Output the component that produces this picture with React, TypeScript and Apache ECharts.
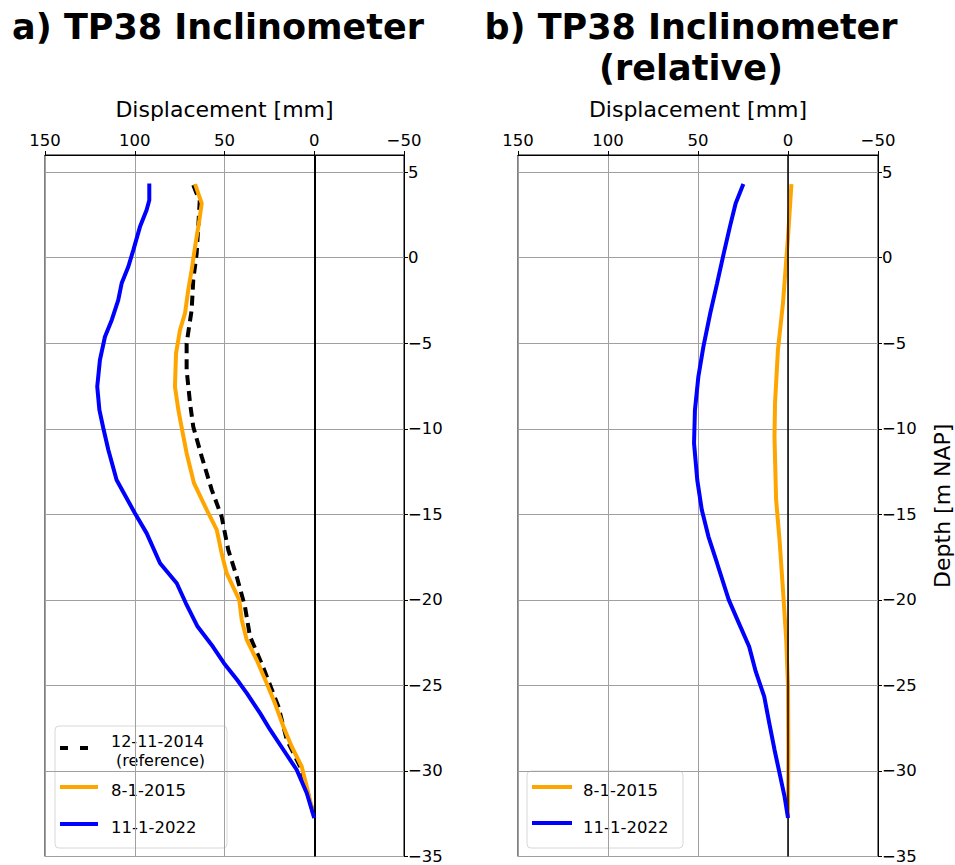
import React, { useEffect, useRef } from "react";
import * as echarts from "echarts";

// ---------- data ----------
const yTicks = [-35, -30, -25, -20, -15, -10, -5, 0, 5];

// panel a (absolute)
const depthRefA = [4.24, 3.3, 0.25, -1.3, -3.06, -5.0, -6.56, -8.5, -9.88, -11.63, -13.57, -15.13, -17.08, -18.64, -20.39, -22.14, -23.9, -26.23, -28.18, -29.74, -31.68, -32.75];
const dispRefA = [67.4, 63.8, 65.5, 67.4, 68.3, 71.1, 71.1, 69.2, 67.4, 62.7, 57.1, 51.6, 47.9, 43.2, 38.6, 35.8, 28.6, 20.0, 15.3, 7.9, 2.5, 0];

const depthOrangeA = [4.3, 3.17, 2.2, 0.64, -0.72, -1.89, -3.25, -4.23, -5.59, -7.54, -8.9, -9.97, -11.43, -13.18, -14.74, -15.91, -17.27, -18.44, -20.0, -21.17, -22.34, -23.5, -24.87, -26.05, -27.4, -28.57, -29.74, -30.91, -32.75];
const dispOrangeA = [66.4, 62.7, 64.0, 66.4, 68.3, 70.2, 72.0, 74.8, 77.0, 77.6, 75.7, 73.8, 71.1, 67.0, 59.9, 54.3, 51.6, 48.8, 41.8, 40.4, 37.6, 32.1, 26.5, 21.9, 17.2, 12.6, 7.0, 4.2, 0];

const depthBlueA = [4.34, 3.36, 2.78, 1.8, 0.44, -0.53, -1.5, -2.48, -3.64, -4.62, -5.98, -7.54, -8.9, -9.97, -11.24, -12.99, -14.94, -16.1, -17.86, -19.03, -20.2, -21.56, -22.73, -23.7, -24.67, -25.45, -26.62, -27.59, -28.76, -29.93, -31.29, -32.75];
const dispBlueA = [91.9, 91.9, 93.4, 97.1, 100.8, 103.6, 107.3, 109.2, 112.8, 116.6, 119.4, 120.9, 119.7, 117.5, 114.7, 110.1, 99.9, 93.4, 85.9, 76.6, 71.5, 65.0, 56.5, 50.3, 43.0, 37.6, 30.2, 24.6, 17.2, 9.8, 4.2, 0];

// panel b (relative)
const depthOrangeB = [4.3, 1.2, -2.67, -5.4, -8.5, -10.46, -14.16, -16.5, -19.4, -22.3, -25, -28.8, -32.75];
const dispOrangeB = [-1.9, 0, 2.8, 5.6, 7.2, 7.5, 6.6, 4.7, 2.8, 1.0, 0, -0.2, 0];

const depthBlueB = [4.3, 3.17, 1.8, 0.25, -1.5, -3.25, -5.2, -6.96, -8.9, -10.85, -13.0, -14.74, -16.3, -17.86, -20, -21.36, -22.73, -24.2, -25.66, -27.2, -28.76, -30.13, -31.5, -32.75];
const dispBlueB = [24.8, 29.1, 32.3, 35.7, 39.4, 43.2, 47.0, 49.8, 51.7, 52.2, 50.4, 47.9, 44.2, 39.4, 32.9, 27.3, 21.6, 17.9, 13.2, 10.4, 7.5, 4.7, 1.9, 0];

const labelRefLine1 = "12-11-2014";
const labelRefLine2 = " (reference)";
const labelRef = labelRefLine1 + "\n" + labelRefLine2;
const labelOrange = "8-1-2015";
const labelBlue = "11-1-2022";

// ---------- helpers ----------
const FONT = "DejaVu Sans";
const ORANGE = "#FFA500";
const BLUE = "#0000FF";
const GRIDC = "#a0a0a0";

const pairs = (d: number[], x: number[]) => d.map((v, i) => [x[i], v]);
const fmt = (v: number) => (v < 0 ? "\u2212" + Math.abs(v) : String(v));

function xAxisFor(idx: number) {
  return {
    gridIndex: idx,
    type: "value",
    position: "top",
    inverse: true,
    min: -50,
    max: 150,
    interval: 50,
    name: "Displacement [mm]",
    nameLocation: "middle",
    nameGap: 35,
    nameTextStyle: { fontFamily: FONT, fontSize: 22, color: "#000" },
    axisLine: { show: true, onZero: false, lineStyle: { color: "#000", width: 1 } },
    axisTick: { show: true, inside: false, length: 4, lineStyle: { color: "#000" } },
    axisLabel: { fontFamily: FONT, fontSize: 16.5, color: "#000", margin: 6, formatter: fmt },
    splitLine: { show: true, lineStyle: { color: GRIDC, width: 1 } },
  };
}

function yAxisFor(idx: number, withName: boolean) {
  return {
    gridIndex: idx,
    type: "value",
    position: "right",
    min: -35,
    max: 6,
    interval: 5,
    name: withName ? "Depth [m NAP]" : "",
    nameLocation: "middle",
    nameRotate: 90,
    nameGap: 53,
    nameTextStyle: { fontFamily: FONT, fontSize: 22, color: "#000" },
    axisLine: { show: true, onZero: false, lineStyle: { color: "#000", width: 1 } },
    axisTick: { show: true, inside: false, length: 4, customValues: yTicks, lineStyle: { color: "#000" } },
    axisLabel: { fontFamily: FONT, fontSize: 16.5, color: "#000", margin: 4, customValues: yTicks, formatter: fmt },
    splitLine: { show: true, lineStyle: { color: GRIDC, width: 1 } },
  };
}

function line(name: string, idx: number, data: number[][], color: string, dashed = false, z = 2) {
  return {
    name,
    type: "line",
    xAxisIndex: idx,
    yAxisIndex: idx,
    data,
    showSymbol: false,
    symbol: "none",
    smooth: false,
    z,
    lineStyle: { color, width: 4, type: dashed ? [10, 6] : "solid", cap: "butt" },
  };
}

function zeroLine(idx: number, width: number) {
  return {
    type: "line",
    xAxisIndex: idx,
    yAxisIndex: idx,
    data: [],
    z: 1,
    markLine: {
      silent: true,
      symbol: "none",
      label: { show: false },
      lineStyle: { color: "#000", width, type: "solid" },
      data: [{ xAxis: 0 }],
    },
  };
}

function legendBox(x: number, y: number, w: number, h: number, items: any[], texts: any[]) {
  const children: any[] = [
    {
      type: "rect",
      shape: { x, y, width: w, height: h, r: 4 },
      style: { fill: "rgba(255,255,255,0.8)", stroke: "#d8d8d8", lineWidth: 1 },
    },
  ];
  items.forEach((it) => {
    children.push({
      type: "line",
      shape: { x1: it.hx1, y1: it.hy, x2: it.hx2, y2: it.hy },
      style: { stroke: it.color, lineWidth: 4, lineDash: it.dash || null, lineCap: "butt" },
    });
  });
  texts.forEach((t) => {
    children.push({
      type: "text",
      x: t.tx,
      y: t.ty,
      style: {
        text: t.text,
        fontFamily: FONT,
        fontSize: t.size || 16.5,
        fill: "#000",
        textAlign: "left",
        textVerticalAlign: "middle",
      },
    });
  });
  return { type: "group", z: 100, children };
}

const titleStyle = (text: string) => ({
  text,
  fontFamily: FONT,
  fontWeight: "bold",
  fontSize: 35,
  fill: "#000",
  textAlign: "center",
  textVerticalAlign: "middle",
});

export default function App() {
  const ref = useRef<HTMLDivElement>(null);
  useEffect(() => {
    if (!ref.current) return;
    const chart = echarts.init(ref.current, null, { renderer: "svg" });
    const option: any = {
      animation: false,
      backgroundColor: "#fff",
      grid: [
        { left: 45, top: 155, width: 359, height: 702, show: true, borderColor: "#000", borderWidth: 1, backgroundColor: "transparent" },
        { left: 518, top: 155, width: 360, height: 702, show: true, borderColor: "#000", borderWidth: 1, backgroundColor: "transparent" },
      ],
      xAxis: [xAxisFor(0), xAxisFor(1)],
      yAxis: [yAxisFor(0, false), yAxisFor(1, true)],
      series: [
        zeroLine(0, 2),
        zeroLine(1, 1.5),
        line(labelRef, 0, pairs(depthRefA, dispRefA), "#000", true, 3),
        line(labelOrange, 0, pairs(depthOrangeA, dispOrangeA), ORANGE, false, 4),
        line(labelBlue, 0, pairs(depthBlueA, dispBlueA), BLUE, false, 5),
        line(labelOrange, 1, pairs(depthOrangeB, dispOrangeB), ORANGE, false, 4),
        line(labelBlue, 1, pairs(depthBlueB, dispBlueB), BLUE, false, 5),
      ],
      graphic: [
        { type: "text", x: 218, y: 27, style: titleStyle("a) TP38 Inclinometer") },
        { type: "text", x: 691, y: 27, style: titleStyle("b) TP38 Inclinometer") },
        { type: "text", x: 691, y: 68, style: titleStyle("(relative)") },
        legendBox(
          55, 726, 172, 122,
          [
            { hx1: 60, hx2: 98, hy: 748, color: "#000", dash: [8, 12] },
            { hx1: 60, hx2: 98, hy: 787, color: ORANGE },
            { hx1: 60, hx2: 98, hy: 824, color: BLUE },
          ],
          [
            { tx: 111, ty: 741, text: labelRefLine1, size: 16 },
            { tx: 111, ty: 760, text: labelRefLine2, size: 16 },
            { tx: 111, ty: 790, text: labelOrange },
            { tx: 111, ty: 827, text: labelBlue },
          ]
        ),
        legendBox(
          527, 771, 156, 77,
          [
            { hx1: 532, hx2: 572, hy: 787, color: ORANGE },
            { hx1: 532, hx2: 572, hy: 823, color: BLUE },
          ],
          [
            { tx: 583, ty: 790, text: labelOrange },
            { tx: 583, ty: 827, text: labelBlue },
          ]
        ),
      ],
    };
    chart.setOption(option);
    return () => chart.dispose();
  }, []);
  return <div ref={ref} style={{ position: "fixed", left: 0, top: 0, width: 955, height: 865 }} />;
}
